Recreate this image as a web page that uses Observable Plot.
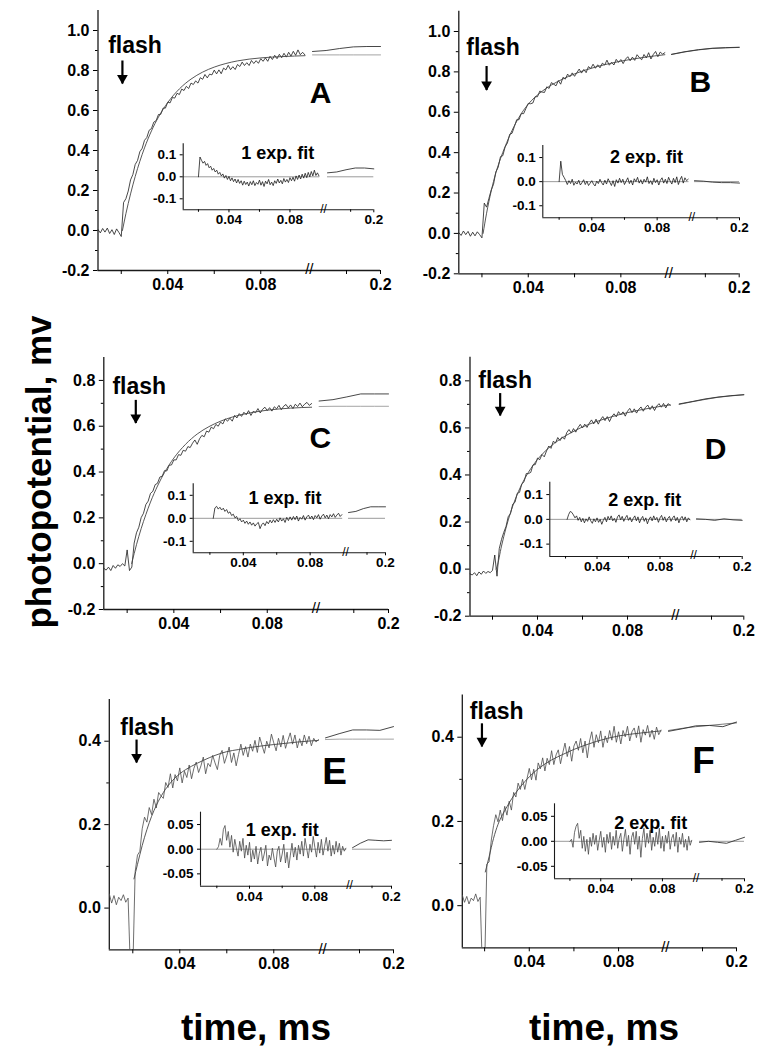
<!DOCTYPE html>
<html><head><meta charset="utf-8">
<script src="https://cdn.jsdelivr.net/npm/d3@7"></script>
<script src="https://cdn.jsdelivr.net/npm/@observablehq/plot@0.6"></script>
<style>
body{margin:0;background:#fff;}
#fig{position:relative;width:776px;height:1050px;overflow:hidden;background:#fff;font-family:"Liberation Sans",Arial,Helvetica,sans-serif;}
#fig svg{position:absolute;left:0;top:0;}
.lbl{position:absolute;font-weight:bold;color:#000;white-space:nowrap;line-height:1;}
</style></head><body><div id="fig"></div>
<script>
// ---------------- data ----------------
const time = [0.010,0.011,0.012,0.013,0.014,0.015,0.016,0.017,0.018,0.019,
0.020,0.021,0.022,0.023,0.024,0.025,0.026,0.027,0.028,0.029,
0.030,0.031,0.032,0.033,0.034,0.035,0.036,0.037,0.038,0.039,
0.040,0.041,0.042,0.043,0.044,0.045,0.046,0.047,0.048,0.049,
0.050,0.051,0.052,0.053,0.054,0.055,0.056,0.057,0.058,0.059,
0.060,0.061,0.062,0.063,0.064,0.065,0.066,0.067,0.068,0.069,
0.070,0.071,0.072,0.073,0.074,0.075,0.076,0.077,0.078,0.079,
0.080,0.081,0.082,0.083,0.084,0.085,0.086,0.087,0.088,0.089,
0.090,0.091,0.092,0.093,0.094,0.095,0.096,0.097,0.098,0.099];
const fitTime = [0.022,0.024,0.026,0.028,0.030,0.033,0.036,0.040,0.045,0.050,0.055,0.060,0.065,0.070,0.080,0.090,0.099];
const postTime = [0.1,0.12,0.14,0.16,0.18,0.2];
const panelNames = ["A","B","C","D","E","F"];
const fitLabels = ["1 exp. fit","2 exp. fit","1 exp. fit","2 exp. fit","1 exp. fit","2 exp. fit"];
const flashTimes = [0.0205,0.0205,0.0219,0.0216,0.0205,0.0203];
const fitStarts = [0,0,0,0,0.07,0.08];

const dataA = [0.005,-0.012,0.010,-0.008,0.012,-0.015,0.004,-0.020,0.008,-0.010,-0.030,
0.14,0.159,0.197,0.253,0.280,0.330,0.350,0.394,0.411,0.451,0.465,0.501,0.510,0.542,0.549,0.580,0.581,0.612,0.612,0.642,
0.638,0.665,0.662,0.686,0.680,0.707,0.700,0.721,0.710,0.737,0.730,0.748,0.737,0.764,0.756,0.780,0.763,0.782,0.778,0.802,
0.783,0.803,0.784,0.812,0.803,0.826,0.804,0.819,0.805,0.830,0.820,0.842,0.825,0.839,0.825,0.850,0.835,0.849,0.836,0.859,
0.846,0.863,0.846,0.871,0.855,0.876,0.859,0.881,0.864,0.886,0.867,0.891,0.872,0.896,0.876,0.903,0.879,0.891,0.878];
const dataB = [0.004,-0.010,0.012,-0.006,0.010,-0.014,0.006,-0.012,0.008,-0.006,-0.022,
0.15,0.130,0.173,0.215,0.243,0.304,0.327,0.380,0.385,0.428,0.448,0.491,0.496,0.529,0.563,0.563,0.594,0.593,0.619,0.644,
0.642,0.646,0.677,0.677,0.705,0.700,0.698,0.726,0.718,0.747,0.739,0.731,0.757,0.739,0.773,0.764,0.789,0.776,0.795,0.778,
0.796,0.814,0.794,0.812,0.796,0.826,0.817,0.838,0.818,0.835,0.820,0.843,0.834,0.858,0.833,0.847,0.834,0.862,0.847,0.861,
0.841,0.863,0.875,0.855,0.873,0.857,0.885,0.871,0.860,0.886,0.869,0.895,0.864,0.886,0.901,0.875,0.898,0.888,0.895];
const dataC = [-0.020,-0.028,-0.015,-0.030,-0.008,-0.020,-0.005,-0.012,0.000,-0.010,0.060,-0.030,
-0.015,0.090,0.135,0.159,0.201,0.220,0.258,0.273,0.307,0.316,0.345,0.351,0.378,0.382,0.406,0.405,0.430,0.431,0.453,0.453,
0.476,0.473,0.495,0.491,0.511,0.507,0.526,0.540,0.521,0.545,0.560,0.554,0.579,0.574,0.596,0.589,0.608,0.600,0.618,0.610,
0.632,0.622,0.635,0.622,0.647,0.636,0.655,0.643,0.661,0.650,0.668,0.647,0.665,0.659,0.677,0.658,0.674,0.683,0.668,0.681,
0.666,0.685,0.676,0.691,0.672,0.687,0.695,0.680,0.693,0.677,0.696,0.686,0.701,0.685,0.696,0.704,0.691,0.699];
const dataD = [-0.020,-0.025,-0.015,-0.028,-0.012,-0.022,-0.008,-0.018,-0.010,-0.015,-0.005,0.060,
-0.030,0.087,0.126,0.156,0.181,0.223,0.236,0.276,0.284,0.322,0.326,0.362,0.371,0.406,0.406,0.411,0.443,0.444,0.472,0.465,
0.487,0.477,0.502,0.523,0.513,0.543,0.536,0.559,0.546,0.562,0.552,0.580,0.593,0.578,0.597,0.582,0.601,0.615,0.600,0.616,
0.602,0.620,0.634,0.617,0.637,0.616,0.635,0.648,0.631,0.648,0.627,0.648,0.660,0.647,0.669,0.656,0.668,0.650,0.671,0.683,
0.665,0.681,0.663,0.679,0.689,0.671,0.687,0.697,0.678,0.694,0.674,0.693,0.703,0.688,0.704,0.685,0.703,0.696];
const dataE = [0.034,0.012,0.030,0.008,0.026,0.018,0.032,0.014,0.024,-0.15,-0.15,
0.087,0.127,0.136,0.190,0.218,0.206,0.241,0.224,0.261,0.240,0.277,0.269,0.263,0.301,0.289,0.322,0.288,0.320,0.305,0.336,
0.300,0.328,0.313,0.343,0.310,0.335,0.350,0.325,0.341,0.362,0.322,0.347,0.339,0.366,0.348,0.332,0.366,0.378,0.347,0.365,
0.386,0.349,0.372,0.341,0.368,0.393,0.366,0.387,0.362,0.393,0.376,0.402,0.373,0.410,0.390,0.371,0.400,0.384,0.417,0.396,
0.377,0.407,0.386,0.414,0.383,0.402,0.420,0.393,0.415,0.384,0.406,0.389,0.415,0.394,0.412,0.389,0.407,0.398,0.404];
const dataF = [0.025,0.008,0.022,0.004,0.018,0.012,0.028,0.010,0.020,-0.15,-0.15,
0.099,0.104,0.156,0.190,0.216,0.199,0.227,0.202,0.236,0.215,0.248,0.227,0.269,0.258,0.291,0.276,0.300,0.276,0.302,0.326,
0.299,0.324,0.298,0.339,0.325,0.351,0.320,0.350,0.335,0.368,0.335,0.358,0.370,0.337,0.363,0.386,0.354,0.378,0.343,0.379,
0.391,0.369,0.397,0.363,0.391,0.351,0.391,0.413,0.376,0.406,0.387,0.415,0.376,0.403,0.387,0.416,0.393,0.426,0.388,0.413,
0.384,0.416,0.401,0.426,0.391,0.413,0.422,0.399,0.427,0.388,0.418,0.405,0.428,0.400,0.417,0.395,0.424,0.406,0.417];

const fitA = [0.084,0.183,0.270,0.346,0.413,0.498,0.567,0.640,0.708,0.757,0.792,0.817,0.835,0.848,0.863,0.870,0.874];
const fitB = [0.100,0.210,0.300,0.370,0.430,0.510,0.575,0.640,0.695,0.735,0.765,0.790,0.810,0.827,0.853,0.872,0.885];
const fitC = [0.004,0.083,0.153,0.214,0.269,0.339,0.398,0.461,0.521,0.566,0.598,0.622,0.640,0.653,0.670,0.679,0.683];
const fitD = [0.010,0.098,0.175,0.240,0.294,0.360,0.412,0.466,0.515,0.552,0.580,0.604,0.623,0.639,0.665,0.684,0.698];
const fitE = [0.105,0.150,0.188,0.220,0.246,0.277,0.300,0.322,0.340,0.354,0.366,0.375,0.380,0.385,0.392,0.398,0.402];
const fitF = [0.116,0.160,0.193,0.216,0.235,0.261,0.282,0.306,0.329,0.346,0.359,0.371,0.381,0.390,0.403,0.410,0.415];

const residA = [null,null,null,null,null,null,null,null,null,null,0,
0.090,0.075,0.062,0.070,0.052,0.060,0.041,0.048,0.030,0.038,0.022,0.030,0.012,0.020,0.004,0.013,-0.006,0.006,-0.012,0.002,
-0.018,-0.005,-0.022,-0.010,-0.028,-0.012,-0.030,-0.018,-0.038,-0.020,-0.035,-0.024,-0.042,-0.022,-0.036,-0.018,-0.040,-0.026,-0.034,-0.015,
-0.038,-0.022,-0.044,-0.020,-0.032,-0.012,-0.036,-0.024,-0.040,-0.018,-0.030,-0.010,-0.028,-0.016,-0.032,-0.008,-0.024,-0.012,-0.026,-0.004,
-0.018,-0.002,-0.020,0.004,-0.012,0.008,-0.010,0.012,-0.006,0.016,-0.004,0.020,0.000,0.024,0.004,0.030,0.006,0.018,0.004];
const residB = [null,null,null,null,null,null,null,null,null,null,0,
0.085,0.030,0.018,0.005,-0.012,0.004,-0.008,0.010,-0.015,-0.002,-0.010,0.006,-0.014,-0.004,0.008,-0.012,0.002,-0.016,-0.006,0.004,
-0.010,-0.018,0.002,-0.008,0.010,-0.004,-0.014,0.006,-0.010,0.012,-0.002,-0.016,0.004,-0.020,0.008,-0.006,0.014,-0.004,0.010,-0.012,
0.002,0.016,-0.008,0.006,-0.014,0.012,0.000,0.018,-0.006,0.008,-0.010,0.010,-0.002,0.020,-0.008,0.004,-0.012,0.014,-0.004,0.008,
-0.014,0.006,0.016,-0.006,0.010,-0.008,0.018,0.002,-0.010,0.014,-0.004,0.020,-0.012,0.008,0.022,-0.006,0.016,0.004,0.010];
const residC = [null,null,null,null,null,null,null,null,null,null,null,null,
0.000,0.045,0.052,0.040,0.048,0.036,0.044,0.030,0.038,0.022,0.028,0.012,0.018,0.002,0.008,-0.010,-0.002,-0.016,-0.008,-0.022,
-0.012,-0.026,-0.016,-0.030,-0.020,-0.034,-0.024,-0.018,-0.045,-0.028,-0.020,-0.032,-0.014,-0.024,-0.008,-0.020,-0.006,-0.018,-0.004,-0.016,
0.002,-0.012,-0.002,-0.018,0.004,-0.010,0.006,-0.008,0.008,-0.006,0.010,-0.012,0.004,-0.004,0.012,-0.008,0.006,0.014,-0.002,0.010,
-0.006,0.012,0.002,0.016,-0.004,0.010,0.018,0.002,0.014,-0.002,0.016,0.006,0.020,0.004,0.014,0.022,0.008,0.016];
const residD = [null,null,null,null,null,null,null,null,null,null,null,0,
0.020,0.032,0.028,0.018,0.006,0.014,-0.004,0.008,-0.010,0.004,-0.014,0.002,-0.008,0.010,-0.006,-0.016,0.002,-0.010,0.006,-0.012,
0.000,-0.020,-0.004,0.008,-0.010,0.012,-0.002,0.014,-0.006,0.004,-0.012,0.010,0.018,-0.002,0.012,-0.008,0.006,0.016,-0.004,0.008,
-0.010,0.004,0.014,-0.006,0.010,-0.014,0.002,0.012,-0.008,0.006,-0.018,0.000,0.010,-0.006,0.014,-0.002,0.008,-0.012,0.006,0.016,
-0.004,0.010,-0.010,0.004,0.012,-0.008,0.006,0.014,-0.006,0.008,-0.014,0.004,0.012,-0.004,0.010,-0.010,0.006,-0.002];
const residE = [null,null,null,null,null,null,null,null,null,null,0,
0.005,0.022,0.008,0.040,0.048,0.018,0.036,0.004,0.028,-0.006,0.020,0.002,-0.014,0.016,-0.004,0.022,-0.018,0.008,-0.012,0.014,
-0.026,-0.002,-0.020,0.006,-0.030,-0.008,0.004,-0.024,-0.010,0.008,-0.034,-0.012,-0.022,0.002,-0.018,-0.036,-0.004,0.006,-0.026,-0.010,
0.010,-0.028,-0.006,-0.038,-0.012,0.012,-0.016,0.004,-0.022,0.008,-0.010,0.016,-0.014,0.022,0.002,-0.018,0.010,-0.006,0.026,0.004,
-0.016,0.014,-0.008,0.020,-0.012,0.006,0.024,-0.004,0.018,-0.014,0.008,-0.010,0.016,-0.006,0.012,-0.012,0.006,-0.004,0.002];
const residF = [null,null,null,null,null,null,null,null,null,null,0,
0.004,-0.012,0.018,0.030,0.036,0.006,0.022,-0.014,0.010,-0.020,0.004,-0.026,0.008,-0.010,0.016,-0.006,0.012,-0.018,0.002,0.020,
-0.012,0.008,-0.022,0.014,-0.004,0.018,-0.016,0.010,-0.008,0.022,-0.014,0.006,0.016,-0.020,0.004,0.024,-0.010,0.012,-0.026,0.008,
0.018,-0.006,0.020,-0.016,0.010,-0.032,0.006,0.026,-0.012,0.016,-0.004,0.022,-0.018,0.008,-0.010,0.018,-0.006,0.026,-0.014,0.010,
-0.020,0.012,-0.004,0.020,-0.016,0.006,0.014,-0.010,0.018,-0.022,0.008,-0.006,0.016,-0.012,0.004,-0.018,0.010,-0.008,0.002];

const postDataA = [0.895,0.900,0.910,0.918,0.920,0.920];
const postFitA  = [0.878,0.878,0.878,0.878,0.878,0.878];
const postResA  = [0.018,0.022,0.032,0.040,0.040,0.036];
const postDataB = [0.887,0.900,0.910,0.917,0.920,0.922];
const postFitB  = [0.886,0.899,0.909,0.916,0.919,0.921];
const postResB  = [0.004,0.002,-0.002,-0.004,-0.004,-0.006];
const postDataC = [0.710,0.716,0.728,0.741,0.741,0.741];
const postFitC  = [0.686,0.687,0.687,0.687,0.687,0.687];
const postResC  = [0.025,0.030,0.042,0.050,0.050,0.050];
const postDataD = [0.702,0.712,0.723,0.731,0.737,0.741];
const postFitD  = [0.700,0.711,0.721,0.730,0.736,0.741];
const postResD  = [0.002,0.000,-0.004,0.002,-0.002,-0.004];
const postDataE = [0.408,0.418,0.427,0.427,0.426,0.435];
const postFitE  = [0.404,0.405,0.405,0.405,0.405,0.405];
const postResE  = [0.003,0.012,0.019,0.018,0.017,0.018];
const postDataF = [0.414,0.420,0.427,0.428,0.425,0.436];
const postFitF  = [0.416,0.421,0.425,0.428,0.431,0.434];
const postResF  = [-0.002,0.000,-0.002,-0.004,0.002,0.008];

// tick values
const xMajor = [0.04,0.08,0.2];
const xMinor = [0.02,0.06,0.15];
const yMajorAB = [-0.2,0,0.2,0.4,0.6,0.8,1.0], yMinorAB = [-0.1,0.1,0.3,0.5,0.7,0.9];
const yMajorCD = [-0.2,0,0.2,0.4,0.6,0.8], yMinorCD = [-0.1,0.1,0.3,0.5,0.7];
const yMajorEF = [0,0.2,0.4], yMinorEF = [0.1,0.3];
const insetTicks1 = [-0.1,0,0.1], insetTicks2 = [-0.05,0,0.05];

// ---------------- layout ----------------
const W = 776, H = 1050;
const FONT = "'Liberation Sans', Arial, Helvetica, sans-serif";
const xDomain = [0.01, 0.0995, 0.1, 0.2];   // broken axis: gap between 0.0995 and 0.1
const breakX = 0.09975;

const series = [
  {data:dataA, fit:fitA, res:residA, pd:postDataA, pf:postFitA, pr:postResA},
  {data:dataB, fit:fitB, res:residB, pd:postDataB, pf:postFitB, pr:postResB},
  {data:dataC, fit:fitC, res:residC, pd:postDataC, pf:postFitC, pr:postResC},
  {data:dataD, fit:fitD, res:residD, pd:postDataD, pf:postFitD, pr:postResD},
  {data:dataE, fit:fitE, res:residE, pd:postDataE, pf:postFitE, pr:postResE},
  {data:dataF, fit:fitF, res:residF, pd:postDataF, pf:postFitF, pr:postResF}
];

const layout = [
  {frame:{l:97.5,r:380,t:10,b:270}, xr:[97.5,305.6,312,380], yDomain:[-0.2,1.1], yMajor:yMajorAB, yMinor:yMinorAB,
   inset:{l:182.7,r:373.3,t:143.3,b:209.3}, ixr:[182.7,319.2,327,373.3], iy:0.15, iTicks:insetTicks1, iDigits:1,
   arrow:{x:0.0205,y1:0.85,y2:0.735}, flash:{x:0.0259,y:0.925}, letter:{x:0.1118,y:0.6875,size:30}, fitText:{x:0.072,y:0.106},
   stroke:"#1a1a1a", pfStroke:"#9a9a9a"},
  {frame:{l:458.3,r:738.7,t:10.8,b:273.3}, xr:[458.3,665.5,671,738.7], yDomain:[-0.2,1.1], yMajor:yMajorAB, yMinor:yMinorAB,
   inset:{l:542.3,r:739,t:145,b:217.3}, ixr:[542.3,688.5,694,739], iy:0.15, iTicks:insetTicks1, iDigits:1,
   arrow:{x:0.022,y1:0.829,y2:0.71}, flash:{x:0.0248,y:0.919}, letter:{x:0.1424,y:0.748,size:30}, fitText:{x:0.0735,y:0.103},
   stroke:"#1a1a1a", pfStroke:"#555"},
  {frame:{l:103.3,r:388,t:357,b:609}, xr:[103.3,312.3,318.6,388], yDomain:[-0.2,0.9], yMajor:yMajorCD, yMinor:yMinorCD,
   inset:{l:192.7,r:385,t:483.3,b:552.3}, ixr:[192.7,342.2,348,385], iy:0.15, iTicks:insetTicks1, iDigits:1,
   arrow:{x:0.0237,y1:0.715,y2:0.614}, flash:{x:0.0252,y:0.773}, letter:{x:0.1017,y:0.545,size:30}, fitText:{x:0.065,y:0.0857},
   stroke:"#1a1a1a", pfStroke:"#9a9a9a"},
  {frame:{l:469.5,r:743.3,t:356.8,b:615.7}, xr:[469.5,670.9,678.7,743.3], yDomain:[-0.2,0.9], yMajor:yMajorCD, yMinor:yMinorCD,
   inset:{l:549.3,r:741.7,t:481.7,b:556}, ixr:[549.3,690.2,696,741.7], iy:0.15, iTicks:insetTicks1, iDigits:1,
   arrow:{x:0.0234,y1:0.748,y2:0.653}, flash:{x:0.0256,y:0.802}, letter:{x:0.1562,y:0.51,size:30}, fitText:{x:0.0703,y:0.077},
   stroke:"#1a1a1a", pfStroke:"#555"},
  {frame:{l:108.8,r:393,t:699,b:949.3}, xr:[108.8,319.1,325,393], yDomain:[-0.1,0.5], yMajor:yMajorEF, yMinor:yMinorEF,
   inset:{l:200,r:391,t:811.7,b:885.7}, ixr:[200,346.2,352,391], iy:0.075, iTicks:insetTicks2, iDigits:2,
   arrow:{x:0.0216,y1:0.404,y2:0.349}, flash:{x:0.0261,y:0.433}, letter:{x:0.1135,y:0.325,size:37}, fitText:{x:0.06,y:0.0385},
   stroke:"#4a4a4a", pfStroke:"#9a9a9a"},
  {frame:{l:461.8,r:736,t:694.6,b:947.3}, xr:[461.8,661.6,668,736], yDomain:[-0.1,0.5], yMajor:yMajorEF, yMinor:yMinorEF,
   inset:{l:554,r:744,t:803.3,b:878.3}, ixr:[554,692,699,744], iy:0.075, iTicks:insetTicks2, iDigits:2,
   arrow:{x:0.0188,y1:0.433,y2:0.378}, flash:{x:0.0254,y:0.461}, letter:{x:0.1515,y:0.344,size:37}, fitText:{x:0.0724,y:0.0368},
   stroke:"#4a4a4a", pfStroke:"#666"}
];

function rows(xs, ys) {
  return xs.map((t, i) => ({t, v: ys[i]})).filter(d => d.v !== null && d.v !== undefined);
}
function baseStyle() {
  return {background: "transparent", fontFamily: FONT, fontWeight: "bold", color: "#000", overflow: "visible"};
}

function mainPlot(i) {
  const p = layout[i], s = series[i], f = p.frame, yMin = p.yDomain[0];
  const fitRows = [{t: flashTimes[i], v: fitStarts[i]}, ...rows(fitTime, s.fit)];
  return Plot.plot({
    width: W, height: H,
    marginLeft: f.l, marginRight: W - f.r, marginTop: f.t, marginBottom: H - f.b,
    style: baseStyle(),
    x: {type: "linear", domain: xDomain, range: p.xr},
    y: {type: "linear", domain: p.yDomain},
    marks: [
      Plot.ruleY([yMin], {stroke: "#1a1a1a", strokeWidth: 1.3}),
      Plot.ruleX([xDomain[0]], {stroke: "#1a1a1a", strokeWidth: 1.3}),
      Plot.axisY({ticks: p.yMajor, tickFormat: d => d.toFixed(1), tickSize: 4.5, tickPadding: 4, fontSize: 16, label: null}),
      Plot.axisY({ticks: p.yMinor, tickFormat: () => "", tickSize: 2.5, label: null}),
      Plot.axisX({ticks: xMajor, tickFormat: d => String(d), tickSize: 4, tickPadding: 4, fontSize: 16, label: null}),
      Plot.axisX({ticks: xMinor, tickFormat: () => "", tickSize: 4, label: null}),
      Plot.text([{x: breakX, y: yMin}], {x: "x", y: "y", text: () => "//", fontSize: 15, fontWeight: "normal", dy: -1}),
      Plot.line(rows(postTime, s.pf), {x: "t", y: "v", stroke: p.pfStroke, strokeWidth: 0.9}),
      Plot.line(rows(postTime, s.pd), {x: "t", y: "v", stroke: "#333", strokeWidth: 0.9}),
      Plot.line(rows(time, s.data), {x: "t", y: "v", stroke: p.stroke, strokeWidth: 0.8, clip: true}),
      Plot.line(fitRows, {x: "t", y: "v", curve: "monotone-x", stroke: "#444", strokeWidth: 0.9}),
      Plot.link([p.arrow], {x1: "x", x2: "x", y1: "y1", y2: "y2", stroke: "#000", strokeWidth: 2.2}),
      Plot.dot([p.arrow], {x: "x", y: "y2", symbol: "triangle", rotate: 180, r: 4, fill: "#000", stroke: null, dy: -5.5}),
      Plot.text([p.flash], {x: "x", y: "y", text: () => "flash", fontSize: 23}),
      Plot.text([p.letter], {x: "x", y: "y", text: () => panelNames[i], fontSize: p.letter.size})
    ]
  });
}

function insetPlot(i) {
  const p = layout[i], s = series[i], f = p.inset, yMin = -p.iy;
  const zeroSeg = [{a: xDomain[0], b: xDomain[1], y: 0}, {a: xDomain[2], b: xDomain[3], y: 0}];
  return Plot.plot({
    width: W, height: H,
    marginLeft: f.l, marginRight: W - f.r, marginTop: f.t, marginBottom: H - f.b,
    style: baseStyle(),
    x: {type: "linear", domain: xDomain, range: p.ixr},
    y: {type: "linear", domain: [-p.iy, p.iy]},
    marks: [
      Plot.ruleY(zeroSeg, {y: "y", x1: "a", x2: "b", stroke: "#9a9a9a", strokeWidth: 1}),
      Plot.ruleY([yMin], {stroke: "#1a1a1a", strokeWidth: 1.1}),
      Plot.ruleX([xDomain[0]], {stroke: "#1a1a1a", strokeWidth: 1.1}),
      Plot.axisY({ticks: p.iTicks, tickFormat: d => d.toFixed(p.iDigits), tickSize: 3, tickPadding: 4, fontSize: 13.5, label: null}),
      Plot.axisX({ticks: xMajor, tickFormat: d => String(d), tickSize: 3, tickPadding: 2, fontSize: 13.5, label: null}),
      Plot.axisX({ticks: xMinor, tickFormat: () => "", tickSize: 2.5, label: null}),
      Plot.text([{x: breakX, y: yMin}], {x: "x", y: "y", text: () => "//", fontSize: 12, fontWeight: "normal", dy: -1}),
      Plot.line(rows(postTime, s.pr), {x: "t", y: "v", stroke: "#333", strokeWidth: 0.9}),
      Plot.line(rows(time, s.res), {x: "t", y: "v", stroke: p.stroke, strokeWidth: 0.8, clip: true}),
      Plot.text([p.fitText], {x: "x", y: "y", text: () => fitLabels[i], fontSize: 18})
    ]
  });
}

const fig = document.getElementById("fig");
for (let i = 0; i < layout.length; i++) {
  fig.append(mainPlot(i));
  fig.append(insetPlot(i));
}
function addLabel(text, css) {
  const d = document.createElement("div");
  d.className = "lbl";
  d.textContent = text;
  d.style.cssText += css;
  fig.append(d);
}
addLabel("photopotential, mv", "left:38px;top:472px;font-size:35px;transform:translate(-50%,-50%) rotate(-90deg);");
addLabel("time, ms", "left:256px;top:1009px;font-size:37px;transform:translateX(-50%);");
addLabel("time, ms", "left:604px;top:1009px;font-size:37px;transform:translateX(-50%);");
</script></body></html>
